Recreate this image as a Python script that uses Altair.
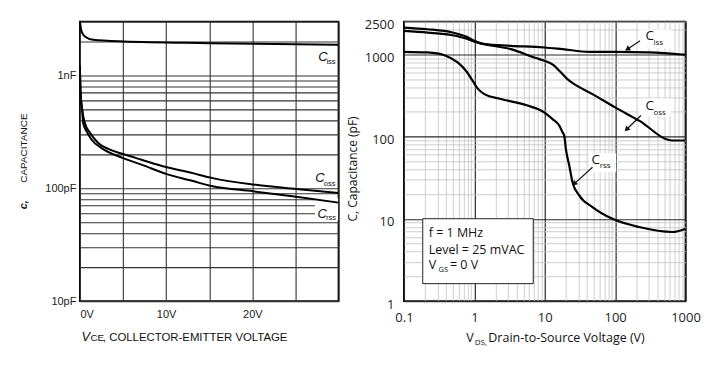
import altair as alt
import pandas as pd

# ---------------- Left panel: C vs V_CE (linear x, log y) ----------------
L_CISS_V = [0, 0.2, 0.58, 1.54, 5.1, 15.1, 30]
L_CISS_C = [2990, 2445, 2210, 2066, 1995, 1930, 1865]
L_COSS_V = [0, 0.08, 0.27, 0.58, 1.16, 2.12, 3.28, 5.0, 7.15, 10.0, 12.9, 15.4, 20.1, 25.1, 30]
L_COSS_C = [1216, 701, 496, 378, 311, 252, 223, 201, 179, 154, 137, 123, 108, 98.6, 90.6]
L_CRSS_V = [0, 0.08, 0.27, 0.38, 0.78, 1.36, 2.52, 5.0, 7.15, 10.0, 12.9, 15.4, 20.1, 25.1, 30]
L_CRSS_C = [1216, 701, 480, 378, 319, 269, 227, 185, 162, 134, 117, 104, 94, 84, 74.6]

L_GRID_V = [0, 5, 10, 15, 20, 25, 30]
L_GRID_C = [10, 20, 30, 40, 50, 60, 70, 80, 90, 100, 200, 300, 400, 500, 600, 700, 800, 900,
            1000, 2000, 3000]

L_LAB_C_V = [27.65, 27.3, 27.55]
L_LAB_C_C = [1446, 122, 59.7]
L_LAB_SUB = ["iss", "oss", "rss"]
L_LAB_SUB_V = [28.6, 28.3, 28.55]
L_LAB_SUB_C = [1319, 110, 54.4]
L_BOX = {"v": [27.27], "v2": [29.95], "c": [81.7], "c2": [51.7]}

# ---------------- Right panel: C vs V_DS (log-log) ----------------
R_CISS_V = [0.1, 0.218, 0.49, 0.76, 1.0, 1.39, 3.3, 9.84, 17.9, 42.8, 100, 304, 1000]
R_CISS_C = [2113, 2014, 1837, 1643, 1458, 1326, 1268, 1209, 1153, 1072, 1072, 1052, 986]
R_COSS_V = [0.1, 0.218, 0.49, 0.76, 1.0, 1.39, 3.3, 7.1, 8.36, 13.6, 16.1, 22.3, 26.2, 47.6,
            100, 219, 650, 1000]
R_COSS_C = [1927, 1837, 1705, 1555, 1418, 1326, 1153, 915, 873, 726, 631, 477, 434, 328,
            226, 156, 89.5, 89.5]
R_CRSS_V = [0.1, 0.218, 0.375, 0.58, 0.76, 0.946, 1.11, 1.39, 2.39, 5.7, 9.84, 12.9, 16.1,
            17.9, 18.9, 20.0, 22.3, 24.8, 30.8, 47.6, 91.6, 219, 650, 1000]
R_CRSS_C = [1072, 1052, 975, 796, 631, 477, 385, 328, 286, 238, 197, 163, 136,
            113, 103, 70, 44.5, 27.9, 19.3, 13.9, 10.0, 7.95, 6.92, 7.59]

R_GRID_V = [round(k * 10 ** d, 6) for d in (-1, 0, 1, 2) for k in range(1, 10)] + [1000]
R_GRID_C = [round(k * 10 ** d, 6) for d in (0, 1, 2) for k in range(1, 10)] + [1000, 2000, 2500]

R_LAB_C_V = [270, 270, 46.2]
R_LAB_C_C = [1652, 233, 51.6]
R_LAB_SUB = ["iss", "oss", "rss"]
R_LAB_SUB_V = [350, 350, 60.5]
R_LAB_SUB_C = [1359, 192, 43.4]
R_WBOX_V = [219, 219, 42.8]
R_WBOX_V2 = [622, 622, 103]
R_WBOX_C = [1997, 291, 62.8]
R_WBOX_C2 = [1175, 176, 36.9]
R_ARROW_V = [226, 232, 47.7]
R_ARROW_C = [1458, 180, 42.4]
R_ARROW_V2 = [149, 145, 26.2]
R_ARROW_C2 = [1153, 122, 26.6]
R_ARROW_ANGLE = [236, 226, 228]

R_NOTE_TEXT = ["f = 1 MHz", "Level = 25 mVAC", "V", "= 0 V"]
R_NOTE_V = [0.225, 0.225, 0.225, 0.45]
R_NOTE_C = [6.73, 4.22, 2.73, 2.73]
R_NOTE_BOX = {"v": [0.185], "v2": [6.87], "c": [10.03], "c2": [1.63]}

# ======================= LEFT =======================
LFONT = "Liberation Sans"
lx_scale = alt.Scale(domain=[0, 30], nice=False, zero=False)
ly_scale = alt.Scale(type="log", domain=[10, 3000], nice=False)
lx_axis = alt.Axis(values=L_GRID_V, title=None, grid=True, gridColor="#333333", gridWidth=1.1,
                   ticks=False, domain=False, labelPadding=7, labelFont=LFONT, labelFontSize=11,
                   labelColor="#222", labelFlush=True, labelOverlap=False,
                   labelExpr="datum.value == 0 ? '0V' : datum.value == 10 ? '10V' : datum.value == 20 ? '20V' : ''")
ly_axis = alt.Axis(values=L_GRID_C, title=None, grid=True, gridColor="#333333", gridWidth=1.1,
                   ticks=False, domain=False, labelPadding=4, labelFont=LFONT, labelFontSize=11,
                   labelColor="#222", labelOverlap=False,
                   labelExpr="datum.value == 1000 ? '1nF' : datum.value == 100 ? '100pF' : datum.value == 10 ? '10pF' : ''")


def lx(f="v"):
    return alt.X(f"{f}:Q", scale=lx_scale, axis=lx_axis)


def ly(f="c"):
    return alt.Y(f"{f}:Q", scale=ly_scale, axis=ly_axis)


l_lines = pd.concat([
    pd.DataFrame({"v": L_CISS_V, "c": L_CISS_C, "s": "Ciss"}),
    pd.DataFrame({"v": L_COSS_V, "c": L_COSS_C, "s": "Coss"}),
    pd.DataFrame({"v": L_CRSS_V, "c": L_CRSS_C, "s": "Crss"}),
])

l_box = alt.Chart(pd.DataFrame(L_BOX)).mark_rect(fill="white").encode(
    x=lx("v"), x2="v2:Q", y=ly("c"), y2="c2:Q")
l_line = alt.Chart(l_lines).mark_line(color="black", strokeWidth=2, interpolate="monotone",
                                      clip=True).encode(x=lx(), y=ly(), detail="s:N")
l_labC = alt.Chart(pd.DataFrame({"v": L_LAB_C_V, "c": L_LAB_C_C, "t": ["C"] * 3})).mark_text(
    font=LFONT, fontSize=13, fontStyle="italic", align="left", baseline="middle", color="#111"
).encode(x=lx(), y=ly(), text="t:N")
l_labS = alt.Chart(pd.DataFrame({"v": L_LAB_SUB_V, "c": L_LAB_SUB_C, "t": L_LAB_SUB})).mark_text(
    font=LFONT, fontSize=7.5, align="left", baseline="middle", color="#111"
).encode(x=lx(), y=ly(), text="t:N")


def ptext(txt, x, y, **kw):
    base = dict(font=LFONT, color="#111", align="left", baseline="alphabetic")
    base.update(kw)
    return alt.Chart(pd.DataFrame({"t": [txt]})).mark_text(**base).encode(
        x=alt.value(x), y=alt.value(y), text="t:N")


l_titles = [
    ptext("V", 1.5, 319.5, fontSize=13, fontStyle="italic"),
    ptext("CE", 10.5, 319.5, fontSize=10),
    ptext(", COLLECTOR-EMITTER VOLTAGE", 23, 319.5, fontSize=11.4),
    ptext("c,", -55.7, 188, fontSize=11, fontStyle="italic", fontWeight="bold", angle=270,
          baseline="middle"),
    ptext("CAPACITANCE", -55.7, 161.5, fontSize=10, angle=270, baseline="middle"),
]

left = alt.layer(l_box, l_line, l_labC, l_labS, *l_titles).properties(width=259, height=280)

# ======================= RIGHT =======================
RFONT = "Open Sans"
MAJ_X = "abs(log(datum.value)/LN10 - round(log(datum.value)/LN10)) < 0.001"
rx_scale = alt.Scale(type="log", domain=[0.1, 1000], nice=False)
ry_scale = alt.Scale(type="log", domain=[1, 2500], nice=False)
grid_col = {"condition": {"test": MAJ_X, "value": "#2a2a2a"}, "value": "#c2c2c2"}
grid_w = {"condition": {"test": MAJ_X, "value": 1.2}, "value": 0.8}
rx_axis = alt.Axis(values=R_GRID_V, title=None, grid=True, gridColor=grid_col, gridWidth=grid_w,
                   ticks=False, domain=False, labelPadding=10, labelFont=RFONT, labelFontSize=13,
                   labelColor="#222", labelFlush=False, labelOverlap=False,
                   labelExpr="datum.value == 0.1 ? '0.1' : datum.value == 1 ? '1' : datum.value == 10 ? '10' : datum.value == 100 ? '100' : datum.value == 1000 ? '1000' : ''")
ry_axis = alt.Axis(values=R_GRID_C, title=None, grid=True, gridColor=grid_col, gridWidth=grid_w,
                   ticks=False, domain=False, labelPadding=10, labelFont=RFONT, labelFontSize=13,
                   labelColor="#222", labelOverlap=False, labelOffset=3,
                   labelExpr="datum.value == 1 ? '1' : datum.value == 10 ? '10' : datum.value == 100 ? '100' : datum.value == 1000 ? '1000' : datum.value == 2500 ? '2500' : ''")


def rx(f="v"):
    return alt.X(f"{f}:Q", scale=rx_scale, axis=rx_axis)


def ry(f="c"):
    return alt.Y(f"{f}:Q", scale=ry_scale, axis=ry_axis)


r_lines = pd.concat([
    pd.DataFrame({"v": R_CISS_V, "c": R_CISS_C, "s": "Ciss"}),
    pd.DataFrame({"v": R_COSS_V, "c": R_COSS_C, "s": "Coss"}),
    pd.DataFrame({"v": R_CRSS_V, "c": R_CRSS_C, "s": "Crss"}),
])

r_wbox = alt.Chart(pd.DataFrame({"v": R_WBOX_V, "v2": R_WBOX_V2, "c": R_WBOX_C, "c2": R_WBOX_C2})
                   ).mark_rect(fill="white").encode(x=rx("v"), x2="v2:Q", y=ry("c"), y2="c2:Q")
r_nbox = alt.Chart(pd.DataFrame(R_NOTE_BOX)).mark_rect(
    fill="white", stroke="#222", strokeWidth=1).encode(x=rx("v"), x2="v2:Q", y=ry("c"), y2="c2:Q")
r_line = alt.Chart(r_lines).mark_line(color="black", strokeWidth=2.2, interpolate="monotone",
                                      clip=True).encode(x=rx(), y=ry(), detail="s:N")
arr_df = pd.DataFrame({"v": R_ARROW_V, "c": R_ARROW_C, "v2": R_ARROW_V2, "c2": R_ARROW_C2,
                       "a": R_ARROW_ANGLE})
r_arrow = alt.Chart(arr_df).mark_rule(color="#111", strokeWidth=1.2).encode(
    x=rx("v"), y=ry("c"), x2="v2:Q", y2="c2:Q")
r_head = alt.Chart(arr_df).mark_point(shape="triangle-up", filled=True, color="#111", size=36,
                                      opacity=1).encode(
    x=rx("v2"), y=ry("c2"), angle=alt.Angle("a:Q", scale=None))
r_labC = alt.Chart(pd.DataFrame({"v": R_LAB_C_V, "c": R_LAB_C_C, "t": ["C"] * 3})).mark_text(
    font=RFONT, fontSize=13.5, align="left", baseline="middle", color="#111"
).encode(x=rx(), y=ry(), text="t:N")
r_labS = alt.Chart(pd.DataFrame({"v": R_LAB_SUB_V, "c": R_LAB_SUB_C, "t": R_LAB_SUB})).mark_text(
    font=RFONT, fontSize=8, align="left", baseline="middle", color="#111"
).encode(x=rx(), y=ry(), text="t:N")
r_note = alt.Chart(pd.DataFrame({"v": R_NOTE_V, "c": R_NOTE_C, "t": R_NOTE_TEXT})).mark_text(
    font=RFONT, fontSize=12.5, align="left", baseline="middle", color="#111"
).encode(x=rx(), y=ry(), text="t:N")
r_note_sub = alt.Chart(pd.DataFrame({"v": [0.31], "c": [2.36], "t": ["GS"]})).mark_text(
    font=RFONT, fontSize=7.5, align="left", baseline="middle", color="#111"
).encode(x=rx(), y=ry(), text="t:N")

r_titles = [
    ptext("V", 62.5, 321, font=RFONT, fontSize=12.5),
    ptext("DS,", 70.8, 324, font=RFONT, fontSize=8),
    ptext("Drain-to-Source Voltage (V)", 84.5, 321, font=RFONT, fontSize=12.5),
    ptext("C, Capacitance (pF)", -50.5, 147.6, font=RFONT, fontSize=12, angle=270,
          align="center", baseline="middle"),
]

right = alt.layer(r_wbox, r_nbox, r_line, r_arrow, r_head, r_labC, r_labS, r_note, r_note_sub,
                  *r_titles).properties(width=282, height=280)

chart = alt.hconcat(left, right, spacing=65.5, bounds="flush").properties(
    padding={"left": 9, "top": 6.3, "right": 4, "bottom": 4}
).configure_view(stroke="black", strokeWidth=1.8)

chart.save("out.html", embed_options={"renderer": "svg", "actions": False})
